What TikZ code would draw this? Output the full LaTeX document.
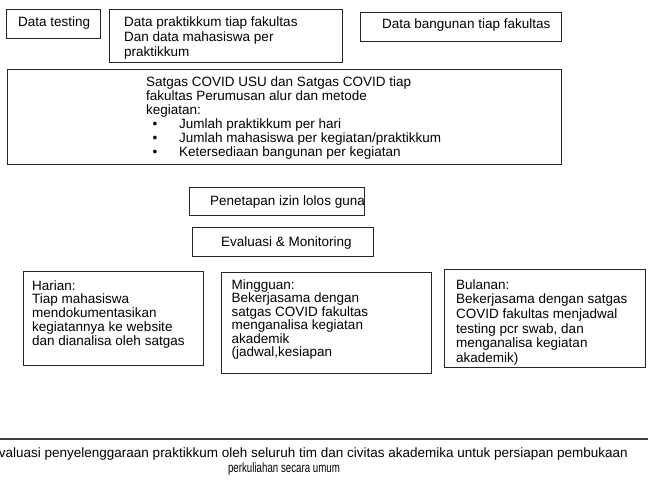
\documentclass[tikz,border=0pt]{standalone}
\usepackage{fontspec}
\setmainfont{Liberation Sans}
\newfontfamily\narrowfont[FakeStretch=0.72]{Liberation Sans}
\newcommand{\bodysize}[1]{\fontsize{13.5bp}{#1}\selectfont}
\begin{document}
\begin{tikzpicture}[x=1bp,y=-1bp,
  box/.style={draw=black!85, line width=0.9bp, inner sep=0pt, anchor=north west},
  % multi-line texts are placed by the baseline of their last line
  txt/.style={inner sep=0pt, anchor=base west, align=left, font=\bodysize{15bp}},
  lead/.style={font=\bodysize{#1}},
  foot/.style={inner sep=0pt, font=\fontsize{13.5bp}{15bp}\selectfont},
  footnarrow/.style={inner sep=0pt, font=\narrowfont\fontsize{13.5bp}{15bp}\selectfont}]
\useasboundingbox (0,0) rectangle (648,490);

% top row: data sources
\node[box, minimum width=94bp, minimum height=29bp] (dtest) at (6,9) {};
\node[txt] (dtestT) at (18,26.5) {Data testing};

\node[box, minimum width=233bp, minimum height=53bp] (dprak) at (109,9) {};
\node[txt] (dprakT) at (124,56.5) {Data praktikkum tiap fakultas\\Dan data mahasiswa per\\praktikkum};

\node[box, minimum width=201bp, minimum height=29bp] (dbang) at (360,12) {};
\node[txt] (dbangT) at (382,28.5) {Data bangunan tiap fakultas};

% planning box
\node[box, minimum width=554bp, minimum height=95bp] (satgas) at (7,69) {};
\node[txt, lead=14bp] (satgasT) at (146,115) {Satgas COVID USU dan Satgas COVID tiap\\fakultas Perumusan alur dan metode\\kegiatan:};
\node[txt, lead=14bp] (satgasL) at (152.5,157) {%
  \makebox[26.5bp][l]{•}Jumlah praktikkum per hari\\
  \makebox[26.5bp][l]{•}Jumlah mahasiswa per kegiatan/praktikkum\\
  \makebox[26.5bp][l]{•}Ketersediaan bangunan per kegiatan};

% permit and evaluation
\node[box, minimum width=175bp, minimum height=28bp] (izin) at (189,187) {};
\node[txt] (izinT) at (210,205.5) {Penetapan izin lolos guna};

\node[box, minimum width=181bp, minimum height=29bp] (evmon) at (192,227) {};
\node[txt] (evmonT) at (221,246.5) {Evaluasi \& Monitoring};

% monitoring schedule
\node[box, minimum width=180bp, minimum height=94bp] (harian) at (23,271) {};
\node[txt, lead=13.75bp] (harianT) at (32,345) {Harian:\\Tiap mahasiswa\\mendokumentasikan\\kegiatannya ke website\\dan dianalisa oleh satgas};

\node[box, minimum width=210bp, minimum height=101bp] (minggu) at (221,272) {};
\node[txt, lead=13.5bp] (mingguT) at (231.5,356.5) {Mingguan:\\Bekerjasama dengan\\satgas COVID fakultas\\menganalisa kegiatan\\akademik\\(jadwal,kesiapan};

\node[box, minimum width=201bp, minimum height=98bp] (bulan) at (444,269) {};
\node[txt, lead=14.7bp] (bulanT) at (456,362.5) {Bulanan:\\Bekerjasama dengan satgas\\COVID fakultas menjadwal\\testing pcr swab, dan\\menganalisa kegiatan\\akademik)};

% final evaluation
\coordinate (footL) at (0,439);
\coordinate (footR) at (648,439);
\draw[draw=black!75, line width=1.6bp] (footL) -- (footR);
\node[foot, anchor=base east] (foot1) at (628,457.5) {Evaluasi penyelenggaraan praktikkum oleh seluruh tim dan civitas akademika untuk persiapan pembukaan};
\node[footnarrow, anchor=base] (foot2) at (284,472.5) {perkuliahan secara umum};
\end{tikzpicture}
\end{document}
